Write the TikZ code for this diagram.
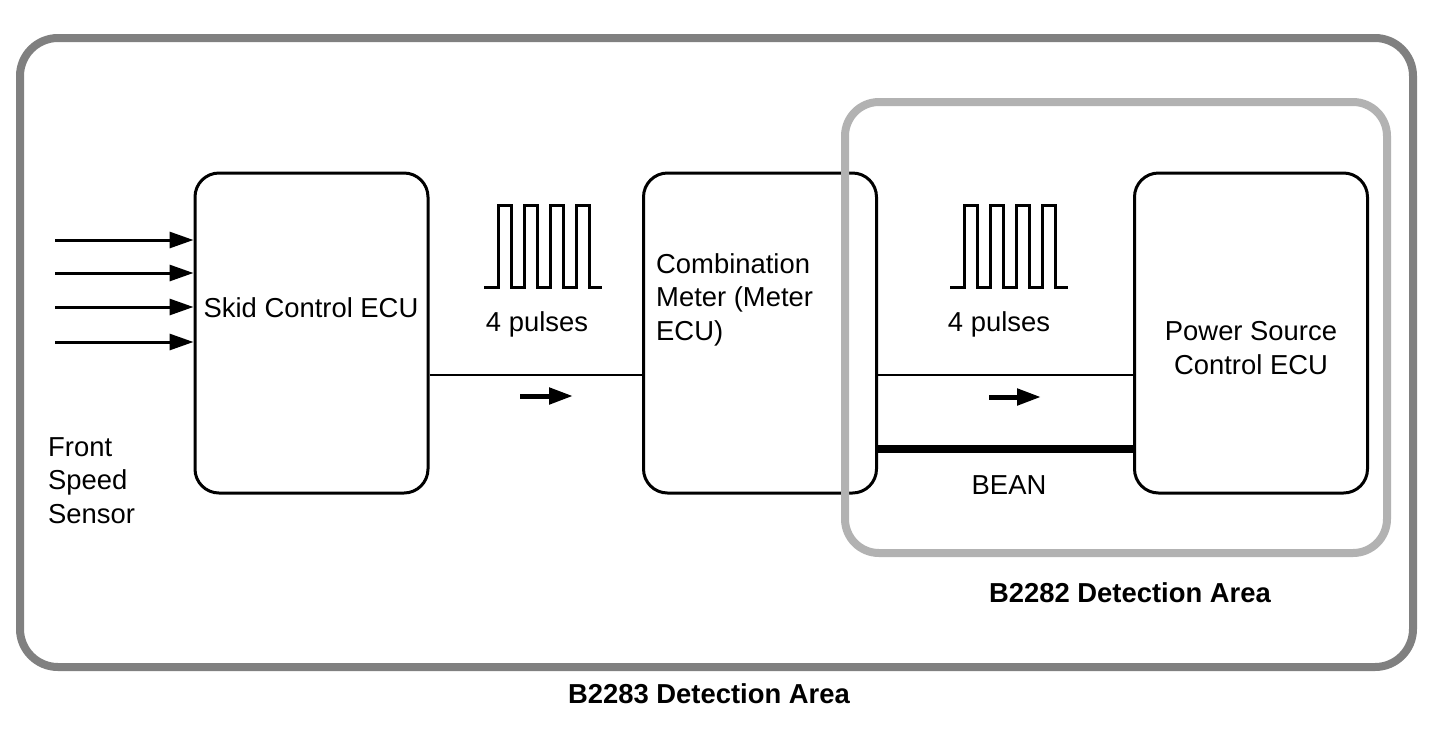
\documentclass[tikz,border=0pt]{standalone}
\usepackage{fontspec}
\setmainfont{Liberation Sans}
\usetikzlibrary{arrows.meta}
\begin{document}
\begin{tikzpicture}[x=1pt,y=-1pt,
  ecu/.style={draw=black,line width=3pt,rounded corners=24pt,minimum width=233pt,minimum height=320pt,inner sep=0pt},
  txt/.style={font=\fontsize{27.4}{33.5}\selectfont,inner sep=0pt,align=left},
  btxt/.style={font=\fontsize{27.4}{33.5}\selectfont\bfseries,inner sep=0pt},
  wire/.style={line width=2.5pt},
  bean/.style={line width=8pt},
  inarrow/.style={line width=3pt,-{Triangle[length=24pt,width=16pt]}},
  dirarrow/.style={line width=5pt,-{Triangle[length=24pt,width=16pt]}},
  pulse/.style={line width=3pt,line join=miter},
  areaout/.style={draw=black!50,line width=8pt,rounded corners=38pt},
  areain/.style={draw=black!30,line width=8pt,rounded corners=34pt}]
\useasboundingbox (0,0) rectangle (1433,748);
% ECU boxes
\node[ecu] (skid) at (311.5,333) {};
\node[ecu] (meter) at (760,333) {};
\node[ecu] (pwr) at (1251,333) {};
% texts
\node[txt,anchor=base] (skidt) at (311,317) {Skid Control ECU};
\node[txt,anchor=base west] (metert) at (656,340) {Combination\\Meter (Meter\\ECU)};
\node[txt,anchor=base,align=center] (pwrt) at (1251,374) {Power Source\\Control ECU};
\node[txt,anchor=base west] (fss) at (48,523) {Front\\Speed\\Sensor};
\node[txt,anchor=base] (p1) at (537,331) {4 pulses};
\node[txt,anchor=base] (p2) at (999,331) {4 pulses};
\node[txt,anchor=base] (beant) at (1009,494) {BEAN};
\node[btxt,anchor=base] (a2282) at (1130,602) {B2282 Detection Area};
\node[btxt,anchor=base] (a2283) at (709,703) {B2283 Detection Area};
% input arrows
\foreach \i/\y in {1/240,2/273,3/307,4/342}{
  \coordinate (in\i) at (55,\y);
  \draw[inarrow] (in\i) -- (in\i -| skid.west);
}
% signal lines
\draw[wire] ([yshift=-42pt]skid.east) -- ([yshift=-42pt]meter.west);
\draw[wire] ([yshift=-42pt]meter.east) -- ([yshift=-42pt]pwr.west);
\draw[bean] ([yshift=-116pt]meter.east) -- ([yshift=-116pt]pwr.west);
% direction arrows
\coordinate (d1s) at (520,396); \coordinate (d1e) at (573,396);
\draw[dirarrow] (d1s) -- (d1e);
\coordinate (d2s) at (989,397); \coordinate (d2e) at (1041,397);
\draw[dirarrow] (d2s) -- (d2e);
% pulse trains
\foreach \x in {484,950}{
  \draw[pulse] (\x,287) -- ++(14,0) -- ++(0,-82) -- ++(13,0) -- ++(0,82) -- ++(13,0)
    -- ++(0,-82) -- ++(13,0) -- ++(0,82) -- ++(13,0) -- ++(0,-82) -- ++(13,0) -- ++(0,82)
    -- ++(13,0) -- ++(0,-82) -- ++(13,0) -- ++(0,82) -- ++(13,0);
}
% detection areas
\draw[areain] (845,102) rectangle (1387,553);
\draw[areaout] (20,38) rectangle (1413,667);
\end{tikzpicture}
\end{document}
